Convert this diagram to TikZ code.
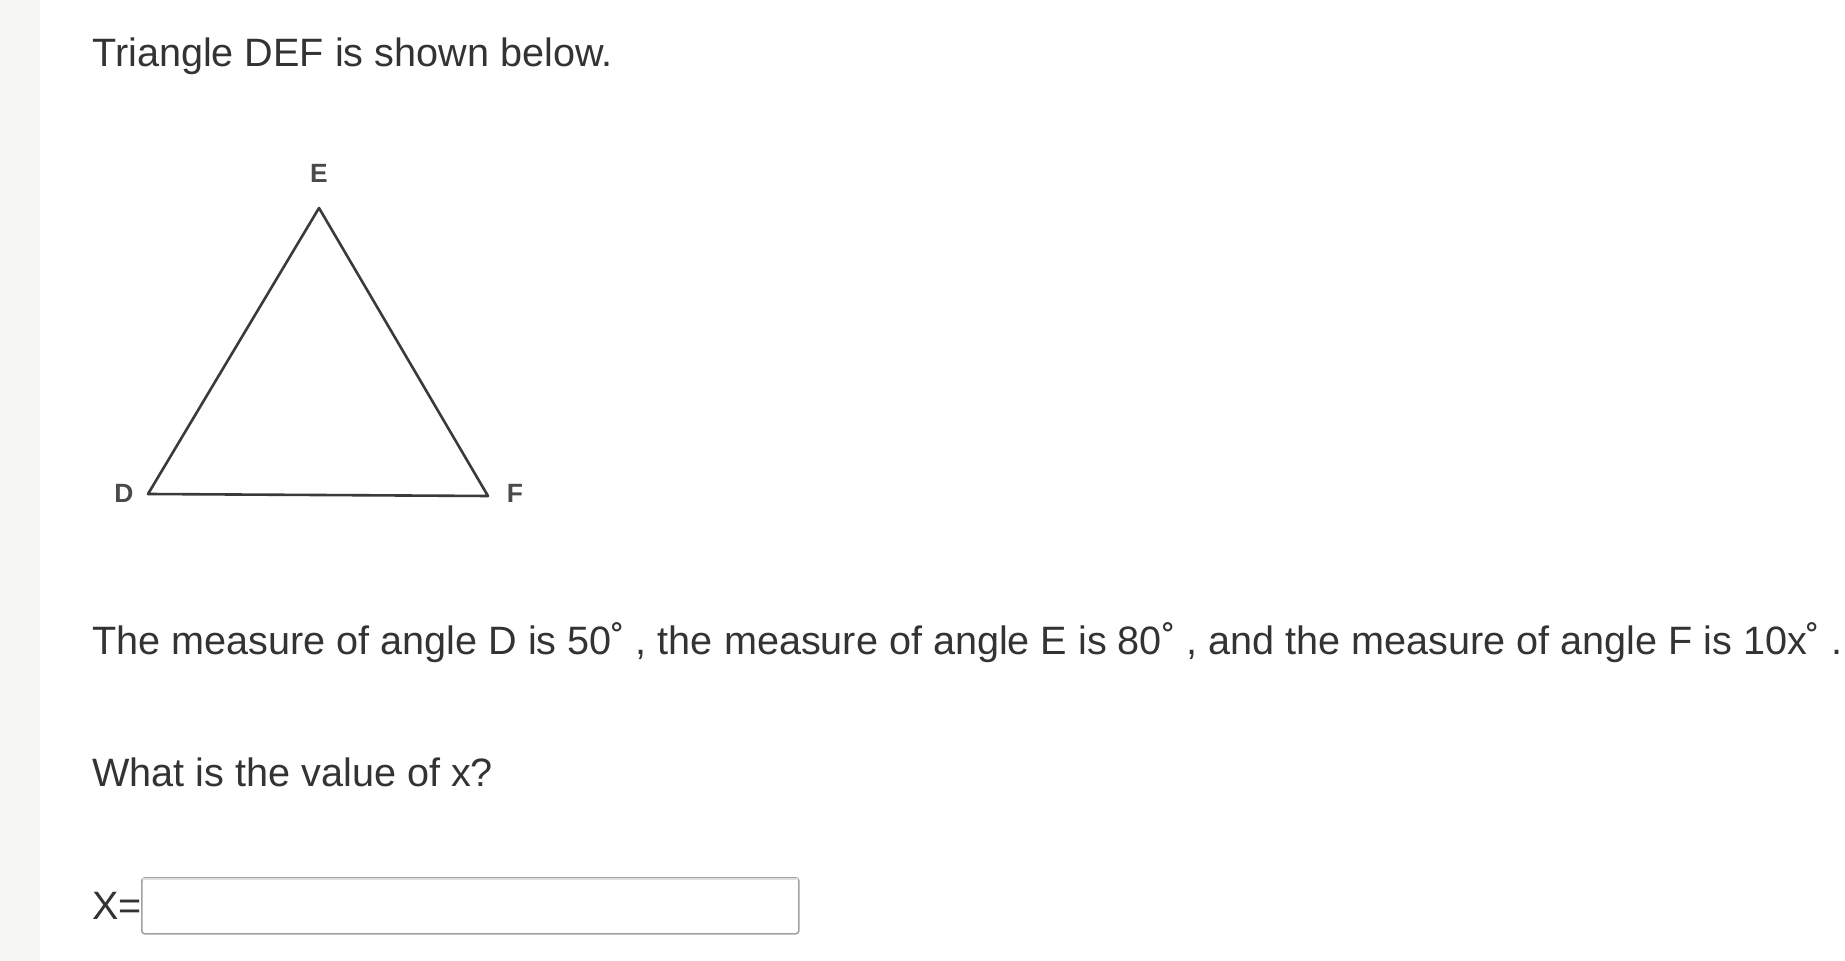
\documentclass[tikz,border=0pt]{standalone}
\usepackage{fontspec}
\setmainfont{Liberation Sans}
\definecolor{textgray}{HTML}{333333}
\definecolor{labelgray}{HTML}{4A4A4A}
\definecolor{linegray}{HTML}{3A3A3A}
\definecolor{stripgray}{HTML}{F6F6F4}
\definecolor{boxgray}{HTML}{A2A2A2}
\begin{document}
\begin{tikzpicture}[x=0.5pt,y=-0.5pt,line cap=round,line join=round,
  txt/.style={anchor=base west,inner sep=0,text=textgray,font=\fontsize{19.8}{24}\selectfont},
  vlabel/.style={anchor=base,inner sep=0,text=labelgray,font=\fontsize{13.2}{16}\selectfont\bfseries}]
\useasboundingbox (0,0) rectangle (1845,961);
\fill[stripgray] (0,0) rectangle (40,961);
\node[txt] (title) at (92,67) {Triangle DEF is shown below.};
\coordinate (D) at (148,494);
\coordinate (E) at (319,208);
\coordinate (F) at (488,496);
\draw[line width=1.3pt,color=linegray] (D)--(E)--(F)--cycle;
\node[vlabel] (labelD) at (124,503) {D};
\node[vlabel] (labelE) at (319,183) {E};
\node[vlabel] (labelF) at (515,503) {F};
\node[txt] (angles) at (92,654) {The measure of angle D is 50˚ , the measure of angle E is 80˚ , and the measure of angle F is 10x˚ .};
\node[txt] (question) at (92,786) {What is the value of x?};
\node[txt] (xeq) at (92,919) {X=};
\node[draw=boxgray,line width=0.8pt,rounded corners=1.5pt,anchor=north west,inner sep=0,
  minimum width=328.5pt,minimum height=28pt] (answer) at (141,877) {};
\draw[black!12,line width=1pt] ([xshift=1pt,yshift=-1pt]answer.north west) -- ([xshift=-1pt,yshift=-1pt]answer.north east);
\end{tikzpicture}
\end{document}
